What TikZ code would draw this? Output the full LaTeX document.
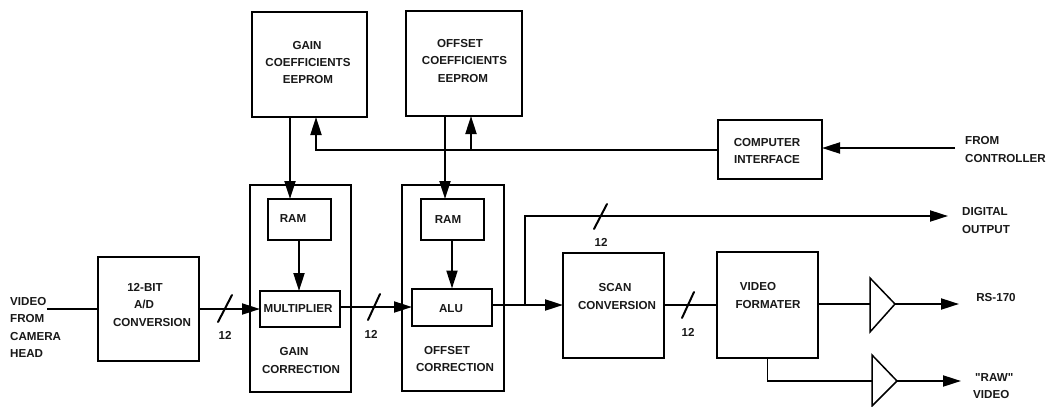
\documentclass[tikz,border=0pt]{standalone}
\usepackage{fontspec}
\setmainfont{Liberation Sans}
\newfontfamily\rawfont{Liberation Sans}
\usetikzlibrary{arrows.meta}
\tikzset{
  box/.style={draw=black,line width=2pt,inner sep=0pt,outer sep=0pt,fill=none},
  wire/.style={draw=black,line width=2pt},
  thin wire/.style={draw=black,line width=1.5pt},
  flow/.style={wire,-{Triangle[length=18pt,width=11pt]}},
  tick/.style={draw=black,line width=2pt,line cap=round},
  lbl/.style={font=\bfseries\fontsize{11.6}{17.3}\selectfont,align=center,inner sep=0pt,text=black!90},
  lbll/.style={lbl,align=left,anchor=west},
  amp/.style={draw=black,line width=1.5pt,line join=miter}
}
\begin{document}
\begin{tikzpicture}[x=1pt,y=-1pt]
\useasboundingbox (0,0) rectangle (1050,407);
\fill[white] (0,0) rectangle (1050,407);
% boxes
\node[box,minimum width=115pt,minimum height=105pt] (gainee) at (309.5,64.5) {};
\node[box,minimum width=116pt,minimum height=105pt] (offee) at (464,63.5) {};
\node[box,minimum width=104pt,minimum height=59pt] (ci) at (770,149.5) {};
\node[box,minimum width=101pt,minimum height=104pt] (ad) at (148.5,309) {};
\node[box,minimum width=101pt,minimum height=207pt] (gcorr) at (300.5,288.5) {};
\node[box,minimum width=63pt,minimum height=41pt] (ramg) at (299,219.5) {};
\node[box,minimum width=80pt,minimum height=36pt] (mult) at (300,309) {};
\node[box,minimum width=102pt,minimum height=206pt] (ocorr) at (453,288) {};
\node[box,minimum width=63pt,minimum height=41pt] (ramo) at (452,219.5) {};
\node[box,minimum width=80pt,minimum height=37pt] (alu) at (452,307) {};
\node[box,minimum width=101pt,minimum height=105pt] (scan) at (613.5,305) {};
\node[box,minimum width=101pt,minimum height=106pt] (vid) at (767.5,305) {};
% labels
\node[lbl] (tgain) at (308,62.5) {\hspace*{-2pt}GAIN\\COEFFICIENTS\\EEPROM};
\node[lbl] (toff) at (464.5,61) {\hspace*{-9pt}OFFSET\\COEFFICIENTS\\\hspace*{-3pt}EEPROM};
\node[lbl] (tci) at (767,151) {COMPUTER\\INTERFACE};
\node[lbll] (tfrom) at (965,149.5) {FROM\\CONTROLLER};
\node[lbll] (tvin) at (10,327.5) {VIDEO\\FROM\\CAMERA\\HEAD};
\node[lbl] (tad) at (152,305) {\hspace*{-14pt}12-BIT\\\hspace*{-16pt}A/D\\CONVERSION};
\node[lbl] (tramg) at (293,218.5) {RAM};
\node[lbl] (tmult) at (298,309) {MULTIPLIER};
\node[lbl] (tgc) at (301,360.5) {\hspace*{-14pt}GAIN\\CORRECTION};
\node[lbl] (tramo) at (448,220) {RAM};
\node[lbl] (talu) at (451,309) {ALU};
\node[lbl] (toc) at (455,359) {\hspace*{-16pt}OFFSET\\CORRECTION};
\node[lbl] (tscan) at (617,296.5) {\hspace*{-4pt}SCAN\\CONVERSION};
\node[lbl] (tvf) at (768,295.5) {\hspace*{-20pt}VIDEO\\FORMATER};
\node[lbll] (tdo) at (962,220.5) {DIGITAL\\OUTPUT};
\node[lbl] (trs) at (996,298) {RS-170};
\node[lbll] (traw) at (973,386) {\hspace*{2pt}{\rawfont\bfseries "RAW"}\\VIDEO};
\node[lbl] (n1) at (225,335) {12};
\node[lbl] (n2) at (371,334) {12};
\node[lbl] (n3) at (601,242) {12};
\node[lbl] (n4) at (688,332) {12};
% free ends and amplifiers
\coordinate (vin) at (47,309);
\coordinate (ctl) at (955,148);
\coordinate (busl) at (316,150);
\coordinate (busm) at (471,150);
\coordinate (jn) at (525,305);
\coordinate (dout) at (948,216);
\coordinate (a1i) at (870,304);
\coordinate (a1o) at (895,304);
\coordinate (a2i) at (872,381);
\coordinate (a2o) at (897,381);
\coordinate (rso) at (959,304);
\coordinate (rwo) at (961,381);
\draw[amp] (870,278) -- (a1o) -- (870,332) -- cycle;
\draw[amp] (872,355) -- (a2o) -- (872,406) -- cycle;
% connectors
\draw[wire] (vin) -- (ad.west);
\draw[flow] (ad.east) -- (mult.west);
\draw[flow] (mult.east |- alu.west) -- (alu.west);
\draw[flow] (alu.east |- scan.west) -- (scan.west);
\draw[wire] (scan.east |- vid.west) -- (vid.west);
\draw[wire] (vid.east |- a1i) -- (a1i);
\draw[flow] (a1o) -- (rso);
\draw[thin wire] (vid.south) -- (vid.south |- a2i) -- (a2i);
\draw[flow] (a2o) -- (rwo);
\draw[flow] (ramg.south) -- (ramg.south |- mult.north);
\draw[flow] (ramo.south) -- (ramo.south |- alu.north);
\draw[flow] ([xshift=-19.5pt]gainee.south) -- ([xshift=-9pt]ramg.north);
\draw[flow] ([xshift=-19pt]offee.south) -- ([xshift=-7pt]ramo.north);
\draw[flow] (ci.west |- busl) -- (busl) -- (busl |- gainee.south);
\draw[flow] (busm) -- (busm |- offee.south);
\draw[flow] (ctl) -- (ci.east |- ctl);
\draw[flow] (jn) |- (dout);
% bus width ticks
\draw[tick] (218,322) -- (232,295);
\draw[tick] (368,320) -- (380,294);
\draw[tick] (594,229) -- (607,204);
\draw[tick] (682,318) -- (694,292);
\end{tikzpicture}
\end{document}
